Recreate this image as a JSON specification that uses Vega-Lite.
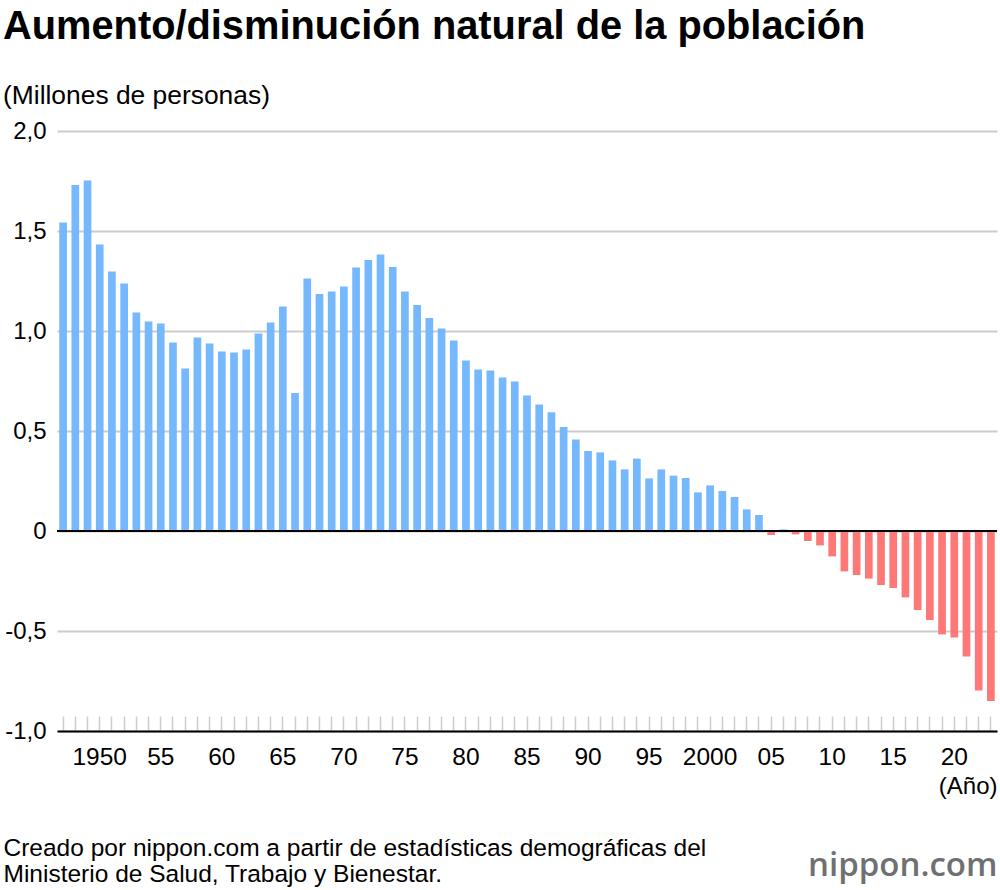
{
  "$schema": "https://vega.github.io/schema/vega-lite/v6.json",
  "width": 940,
  "height": 600,
  "autosize": {"type": "none"},
  "padding": {"left": 57, "top": 131, "right": 3, "bottom": 159},
  "background": "white",
  "config": {"view": {"stroke": null}, "font": "Liberation Sans"},
  "title": {
    "text": "Aumento/disminución natural de la población",
    "subtitle": "(Millones de personas)",
    "anchor": "start",
    "frame": "group",
    "dx": -54,
    "offset": 9,
    "font": "Liberation Sans",
    "fontSize": 39.8,
    "fontWeight": "bold",
    "color": "#000000",
    "subtitleFont": "Liberation Sans",
    "subtitleFontSize": 26.4,
    "subtitleColor": "#000000",
    "subtitlePadding": 35
  },
  "data": {
    "values": [
      {"year": 1947, "v": 1.542}, {"year": 1948, "v": 1.730}, {"year": 1949, "v": 1.752},
      {"year": 1950, "v": 1.432}, {"year": 1951, "v": 1.298}, {"year": 1952, "v": 1.238},
      {"year": 1953, "v": 1.093}, {"year": 1954, "v": 1.048}, {"year": 1955, "v": 1.037},
      {"year": 1956, "v": 0.942}, {"year": 1957, "v": 0.813}, {"year": 1958, "v": 0.968},
      {"year": 1959, "v": 0.937}, {"year": 1960, "v": 0.898}, {"year": 1961, "v": 0.893},
      {"year": 1962, "v": 0.908}, {"year": 1963, "v": 0.988}, {"year": 1964, "v": 1.043},
      {"year": 1965, "v": 1.123}, {"year": 1966, "v": 0.690}, {"year": 1967, "v": 1.262},
      {"year": 1968, "v": 1.185}, {"year": 1969, "v": 1.197}, {"year": 1970, "v": 1.222},
      {"year": 1971, "v": 1.317}, {"year": 1972, "v": 1.355}, {"year": 1973, "v": 1.383},
      {"year": 1974, "v": 1.320}, {"year": 1975, "v": 1.198}, {"year": 1976, "v": 1.130},
      {"year": 1977, "v": 1.065}, {"year": 1978, "v": 1.013}, {"year": 1979, "v": 0.953},
      {"year": 1980, "v": 0.853}, {"year": 1981, "v": 0.808}, {"year": 1982, "v": 0.803},
      {"year": 1983, "v": 0.768}, {"year": 1984, "v": 0.748}, {"year": 1985, "v": 0.678},
      {"year": 1986, "v": 0.633}, {"year": 1987, "v": 0.594}, {"year": 1988, "v": 0.520},
      {"year": 1989, "v": 0.457}, {"year": 1990, "v": 0.400}, {"year": 1991, "v": 0.393},
      {"year": 1992, "v": 0.353}, {"year": 1993, "v": 0.308}, {"year": 1994, "v": 0.362},
      {"year": 1995, "v": 0.263}, {"year": 1996, "v": 0.308}, {"year": 1997, "v": 0.277},
      {"year": 1998, "v": 0.265}, {"year": 1999, "v": 0.193}, {"year": 2000, "v": 0.228},
      {"year": 2001, "v": 0.200}, {"year": 2002, "v": 0.170}, {"year": 2003, "v": 0.108},
      {"year": 2004, "v": 0.080}, {"year": 2005, "v": -0.020}, {"year": 2006, "v": 0.008},
      {"year": 2007, "v": -0.017}, {"year": 2008, "v": -0.050}, {"year": 2009, "v": -0.072},
      {"year": 2010, "v": -0.127}, {"year": 2011, "v": -0.202}, {"year": 2012, "v": -0.220},
      {"year": 2013, "v": -0.238}, {"year": 2014, "v": -0.270}, {"year": 2015, "v": -0.285},
      {"year": 2016, "v": -0.332}, {"year": 2017, "v": -0.395}, {"year": 2018, "v": -0.445},
      {"year": 2019, "v": -0.517}, {"year": 2020, "v": -0.532}, {"year": 2021, "v": -0.628},
      {"year": 2022, "v": -0.798}, {"year": 2023, "v": -0.850}
    ]
  },
  "layer": [
    {
      "mark": {"type": "bar"},
      "encoding": {
        "x": {
          "field": "year",
          "type": "ordinal",
          "scale": {"paddingInner": 0.37, "paddingOuter": 0.185},
          "axis": {
            "labelExpr": "datum.value % 5 == 0 ? ((datum.value == 1950 || datum.value == 2000) ? toString(datum.value) : substring(toString(datum.value), 2)) : ''",
            "labelAngle": 0,
            "labelOverlap": false,
            "labelFont": "Liberation Sans",
            "labelFontSize": 24.5,
            "labelColor": "#000000",
            "labelPadding": 29.5,
            "domain": true,
            "domainColor": "#000000",
            "domainWidth": 2,
            "ticks": true,
            "tickSize": -15,
            "tickColor": "#cccccc",
            "tickWidth": 1.5,
            "grid": false,
            "title": "(Año)",
            "titleFont": "Liberation Sans",
            "titleFontSize": 24,
            "titleFontWeight": "normal",
            "titleColor": "#000000",
            "titleAnchor": "end",
            "titleAlign": "right",
            "titleBaseline": "alphabetic",
            "titleX": 940,
            "titleY": 62
          }
        },
        "y": {
          "field": "v",
          "type": "quantitative",
          "scale": {"domain": [-1, 2], "nice": false, "zero": true},
          "axis": {
            "values": [-1, -0.5, 0, 0.5, 1, 1.5, 2],
            "labelExpr": "datum.value == 0 ? '0' : (datum.value < 0 ? '-' : '') + replace(format(abs(datum.value), '.1f'), '.', ',')",
            "labelFont": "Liberation Sans",
            "labelFontSize": 24,
            "labelColor": "#000000",
            "labelPadding": 11,
            "domain": false,
            "ticks": false,
            "grid": true,
            "gridColor": "#cccccc",
            "gridWidth": 2,
            "title": ["Creado por nippon.com a partir de estadísticas demográficas del", "Ministerio de Salud, Trabajo y Bienestar."],
            "titleFont": "Liberation Sans",
            "titleFontSize": 24.5,
            "titleFontWeight": "normal",
            "titleColor": "#000000",
            "titleAngle": 0,
            "titleAlign": "left",
            "titleBaseline": "alphabetic",
            "titleLineHeight": 26,
            "titleX": -54,
            "titleY": 724
          }
        },
        "color": {
          "condition": {"test": "datum.v < 0", "value": "#ff7878"},
          "value": "#76b8fe"
        }
      }
    },
    {
      "data": {"values": [{}]},
      "mark": {"type": "rule", "color": "#000000", "strokeWidth": 2},
      "encoding": {
        "y": {
          "datum": 0,
          "type": "quantitative",
          "scale": {"domain": [-1, 2], "nice": false},
          "axis": {
            "orient": "right",
            "labels": false,
            "ticks": false,
            "domain": false,
            "grid": false,
            "title": "nippon.com",
            "titleFont": "Open Sans",
            "titleFontSize": 33,
            "titleFontWeight": 600,
            "titleColor": "#707070",
            "titleAngle": 0,
            "titleAlign": "right",
            "titleBaseline": "alphabetic",
            "titleX": 0,
            "titleY": 744
          }
        }
      }
    }
  ],
  "resolve": {"scale": {"y": "independent"}, "axis": {"y": "independent"}}
}
